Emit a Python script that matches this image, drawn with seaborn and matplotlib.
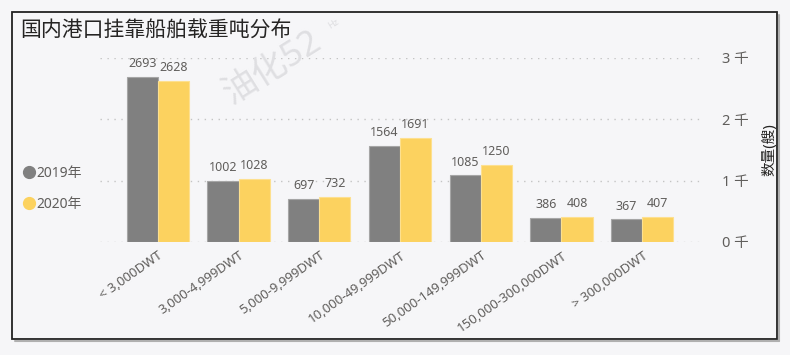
import matplotlib
matplotlib.use('Agg')
import matplotlib.pyplot as plt
import seaborn as sns
import pandas as pd
from matplotlib.lines import Line2D
from matplotlib.patches import Rectangle

categories = ['< 3,000DWT', '3,000-4,999DWT', '5,000-9,999DWT', '10,000-49,999DWT',
              '50,000-149,999DWT', '150,000-300,000DWT', '> 300,000DWT']
y2019 = [2693, 1002, 697, 1564, 1085, 386, 367]
y2020 = [2628, 1028, 732, 1691, 1250, 408, 407]
years = ['2019年', '2020年']
yticks = [0, 1000, 2000, 3000]
ytick_labels = ['0 千', '1 千', '2 千', '3 千']
title = '国内港口挂靠船舶载重吨分布'
ylabel = '数量(艘)'

bg = '#f6f6f8'
txt = '#605e5c'
colors = {'2019年': '#808080', '2020年': '#fcd25f'}
edges = {'2019年': '#a6a6a6', '2020年': '#fde08f'}

sns.set_theme(style='white')
plt.rcParams['font.family'] = ['Noto Sans', 'Noto Sans CJK SC', 'DejaVu Sans']

W, H = 790, 355
fig = plt.figure(figsize=(W / 100, H / 100), dpi=100, facecolor=bg)
ax = fig.add_axes([100 / W, 1 - 242 / H, 600 / W, (242 - 58) / H])
ax.set_facecolor(bg)

df = pd.DataFrame({
    'cat': categories * 2,
    'year': [years[0]] * len(categories) + [years[1]] * len(categories),
    'val': y2019 + y2020,
})
sns.barplot(data=df, x='cat', y='val', hue='year', hue_order=years, order=categories,
            palette=colors, width=0.77, saturation=1, ax=ax, legend=False)

for cont, yr in zip(ax.containers, years):
    for p in cont:
        p.set_edgecolor(edges[yr])
        p.set_linewidth(0.8)
    ax.bar_label(cont, padding=5, fontsize=9, color=txt)

ax.set_xlim(-0.716, 6.716)
ax.set_ylim(0, 3000)
ax.set_yticks(yticks)
ax.set_yticklabels(ytick_labels, family=['Noto Sans', 'Noto Sans CJK SC'])
ax.yaxis.tick_right()
ax.tick_params(axis='y', length=0, pad=16, labelsize=10.5, labelcolor=txt)
ax.set_xticks(range(len(categories)))
ax.set_xticklabels(categories, rotation=35, ha='right', rotation_mode='anchor')
ax.tick_params(axis='x', length=0, pad=5, labelsize=9.5, labelcolor=txt)
ax.yaxis.grid(True, linestyle=(0, (1, 4)), color='#c4c4c4', linewidth=1)
ax.set_axisbelow(True)
for s in ax.spines.values():
    s.set_visible(False)
ax.set_xlabel('')
ax.set_ylabel(ylabel, fontsize=10.5, color='#252423', rotation=90)
ax.yaxis.set_label_position('right')
ax.yaxis.set_label_coords((762 - 100) / 600, 0.5)

# legend
handles = [Line2D([], [], marker='o', ls='', color=colors[y], markersize=8.5) for y in years]
fig.legend(handles=handles, labels=years, loc='center left',
           bbox_to_anchor=(10 / W, 1 - 189 / H), frameon=False, handletextpad=0.1,
           labelspacing=1.15, fontsize=10, labelcolor=txt, handlelength=0.9)

# title
fig.text(20 / W, 1 - 31 / H, title, fontsize=15, va='center', ha='left', color='#252423',
         family=['Noto Sans CJK SC'])

# watermark
fig.text(272 / W, 1 - 68 / H, '油化52', fontsize=25, rotation=32, ha='center', va='center',
         color='#dfdfe2')
fig.text(333 / W, 1 - 24 / H, 'Hz', fontsize=6.5, rotation=32, ha='center', va='center',
         color='#dfdfe2')

# frame with right/bottom shadow
fig.add_artist(Line2D([779 / W, 779 / W], [1 - 15 / H, 1 - 341 / H], transform=fig.transFigure,
                      color='#b0b0b0', linewidth=1.5))
fig.add_artist(Line2D([15 / W, 779 / W], [1 - 341 / H, 1 - 341 / H], transform=fig.transFigure,
                      color='#b0b0b0', linewidth=1.5))
fig.patches.append(Rectangle((12 / W, 1 - 339 / H), (777 - 12) / W, (339 - 12) / H,
                             transform=fig.transFigure, fill=False, edgecolor='#222222',
                             linewidth=1.3, zorder=1))

fig.savefig('out.png', dpi=100, facecolor=bg)
